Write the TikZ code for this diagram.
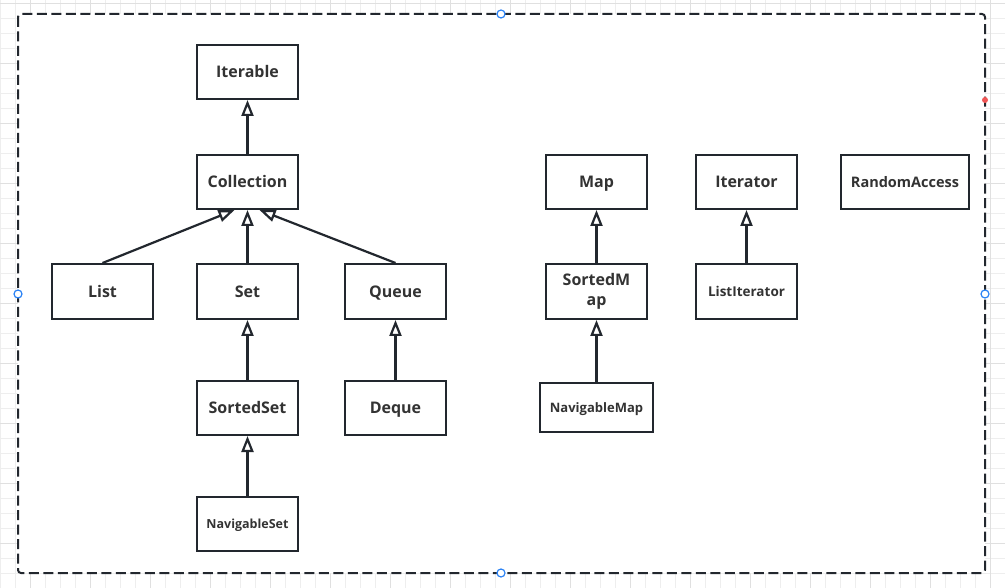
\documentclass[tikz,border=0pt]{standalone}
\usepackage{fontspec}
\setmainfont{Open Sans}
\usetikzlibrary{arrows.meta}
\definecolor{edge}{HTML}{22272E}
\definecolor{txt}{HTML}{333333}
\definecolor{gridl}{HTML}{EEEEEE}
\definecolor{gridd}{HTML}{E0E0E0}
\definecolor{handle}{HTML}{2C83F5}
\definecolor{reddot}{HTML}{F05555}
\tikzset{
  cls/.style={draw=edge, line width=2pt, fill=white, inner sep=0pt, anchor=north west, text=txt, font=\bfseries\fontsize{16}{19}\selectfont, align=center, text height=11.4pt, text depth=0pt},
  small/.style={font=\bfseries\fontsize{12.5}{15}\selectfont, text height=8.9pt},
  inh/.style={draw=edge, line width=2.2pt, -{Triangle[open, length=16pt, width=12pt, fill=white]}},
  hnd/.style={draw=handle, fill=white, line width=1.2pt, circle, minimum size=8pt, inner sep=0pt},
}
\begin{document}
\begin{tikzpicture}[x=1pt,y=-1pt]
\useasboundingbox (0,0) rectangle (1005,588);
% background grid
\foreach \x in {0,15,...,1005} \draw[gridl, line width=0.8pt] (\x,0) -- (\x,588);
\foreach \y in {3.3,18.3,...,588} \draw[gridl, line width=0.8pt] (0,\y) -- (1005,\y);
\foreach \x in {30,90,...,1005} \draw[gridd, line width=0.8pt] (\x,0) -- (\x,588);
\foreach \y in {3.3,63.3,...,588} \draw[gridd, line width=0.8pt] (0,\y) -- (1005,\y);
% frame
\draw[edge, line width=2pt, fill=white, dash pattern=on 10pt off 4.5pt, rounded corners=3pt] (18,14) rectangle (985,573);
% classes
\node[cls, minimum width=101pt, minimum height=54pt] (iterable) at (196,44) {Iterable};
\node[cls, minimum width=101pt, minimum height=54pt] (collection) at (196,154) {Collection};
\node[cls, minimum width=101pt, minimum height=55pt] (list) at (51,263) {List};
\node[cls, minimum width=101pt, minimum height=55pt] (set) at (196,263) {Set};
\node[cls, minimum width=101pt, minimum height=55pt] (queue) at (344,263) {Queue};
\node[cls, minimum width=101pt, minimum height=54pt] (sortedset) at (196,380) {SortedSet};
\node[cls, minimum width=101pt, minimum height=54pt] (deque) at (344,380) {Deque};
\node[cls, small, minimum width=101pt, minimum height=54pt] (navset) at (196,496) {NavigableSet};
\node[cls, minimum width=101pt, minimum height=54pt] (map) at (545,154) {Map};
\node[cls, minimum width=101pt, minimum height=55pt, font=\bfseries\fontsize{16}{20}\selectfont, text height=, text depth=] (sortedmap) at (545,263) {SortedM\\ap};
\node[cls, font=\bfseries\fontsize{13}{15}\selectfont, text height=9.3pt, minimum width=113pt, minimum height=49pt] (navmap) at (539,382) {NavigableMap};
\node[cls, minimum width=101pt, minimum height=54pt] (iterator) at (695,154) {Iterator};
\node[cls, font=\bfseries\fontsize{13.5}{16}\selectfont, text height=9.6pt, minimum width=101pt, minimum height=55pt] (listiter) at (695,263) {ListIterator};
\node[cls, font=\bfseries\fontsize{14.5}{17}\selectfont, text height=10.4pt, minimum width=128pt, minimum height=54pt] (randacc) at (840,154) {RandomAccess};
% inheritance
\draw[inh] (collection.north) -- (iterable.south);
\draw[inh] (list.north) -- ([xshift=-13pt]collection.south);
\draw[inh] (set.north) -- (collection.south);
\draw[inh] (queue.north) -- ([xshift=12pt]collection.south);
\draw[inh] (sortedset.north) -- (set.south);
\draw[inh] (navset.north) -- (sortedset.south);
\draw[inh] (deque.north) -- (queue.south);
\draw[inh] (sortedmap.north) -- (map.south);
\draw[inh] (navmap.north) -- (sortedmap.south);
\draw[inh] (listiter.north) -- (iterator.south);
% selection handles
\node[hnd] (h1) at (501,14) {};
\node[hnd] (h2) at (18,294) {};
\node[hnd] (h3) at (985,294) {};
\node[hnd] (h4) at (501,573) {};
\fill[reddot] (985,100) circle (3pt);
\end{tikzpicture}
\end{document}
